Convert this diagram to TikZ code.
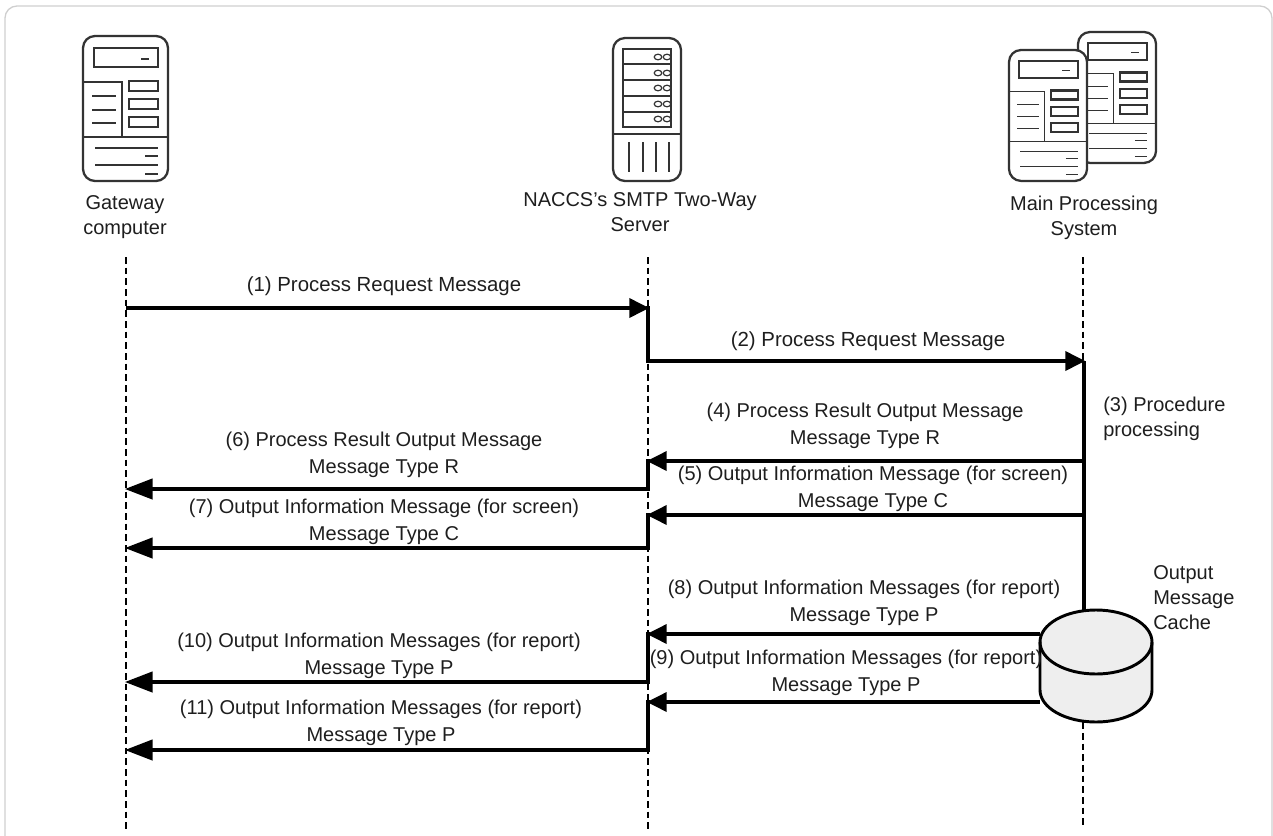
\documentclass[tikz,border=0pt]{standalone}
\usepackage{fontspec}
\setmainfont{Liberation Sans}
\usetikzlibrary{arrows.meta}
\definecolor{ink}{HTML}{1E1E1E}
\definecolor{icon}{HTML}{333333}
\definecolor{frameg}{HTML}{CFCFCF}
\definecolor{cachefill}{HTML}{EEEEEE}
\tikzset{
  lbl/.style={inner sep=0pt,text=ink,align=center,font=\fontsize{15}{20.25}\selectfont},
  lblwide/.style={inner sep=0pt,text=ink,align=center,font=\fontsize{15.3}{20.25}\selectfont},
  lblhead/.style={inner sep=0pt,text=ink,align=center,font=\fontsize{15}{18.75}\selectfont},
  lblside/.style={inner sep=0pt,text=ink,align=left,anchor=west,font=\fontsize{15}{18.75}\selectfont},
  lifeline/.style={draw=black,line width=1.2pt,dash pattern=on 5pt off 3pt},
  thickline/.style={draw=black,line width=3.3pt},
  msgr/.style={thickline,-{Triangle[length=15pt,width=14pt]},shorten >=-1pt},
  msgl/.style={thickline,-{Triangle[length=15pt,width=14pt]},shorten >=-1pt},
  msglong/.style={thickline,-{Triangle[length=21pt,width=15pt]},shorten >=-1pt},
  ico/.style={draw=icon,line width=1.7pt},
  icothin/.style={draw=icon,line width=.9pt},
  icobox/.style={draw=icon,line width=1.8pt,fill=white},
}
\newcommand{\compicon}[4]{%
\begin{scope}[shift={(#1,#2)},xscale=#3,yscale=#4]
  \draw[ico,fill=white,rounded corners=9pt] (0,0) rectangle (85,145);
  \draw[icobox] (11,12) rectangle (75,31);
  \draw[icothin] (58,23) -- (66,23);
  \draw[icothin] (0,46) -- (39,46) -- (39,101);
  \draw[icothin] (0,101) -- (85,101);
  \draw[icobox] (46,45) rectangle (75,55);
  \draw[icobox] (46,63) rectangle (75,73);
  \draw[icobox] (46,81) rectangle (75,91);
  \foreach \yy in {60,74,87} \draw[icothin] (9,\yy) -- (33,\yy);
  \draw[icothin] (12,112) -- (75,112);
  \draw[icothin] (62,120) -- (75,120);
  \draw[icothin] (12,129) -- (75,129);
  \draw[icothin] (62,138) -- (75,138);
\end{scope}}
\begin{document}
\begin{tikzpicture}[x=.75pt,y=-.75pt]
\useasboundingbox (0,0) rectangle (1273,835);
\begin{scope}
\clip (0,0) rectangle (1273,835);
\draw[frameg,line width=1pt,rounded corners=9pt] (5,6) rectangle (1272,850);
\end{scope}

% icons
\compicon{83}{36}{1}{1}
\compicon{1078}{32}{.918}{.903}
\compicon{1009}{50}{.918}{.903}
% server icon
\draw[ico,rounded corners=9pt] (613,38) rectangle (681,181);
\draw[icobox] (623,49) rectangle (671,127);
\foreach \yy in {64,80,96,112} \draw[icothin,line width=1.2pt] (623,\yy) -- (671,\yy);
\foreach \yy in {57,73,88,104,119} {
  \draw[icothin] (658,\yy) ellipse (3.8 and 2.8);
  \draw[icothin] (667,\yy) ellipse (3.8 and 2.8);
}
\draw[icothin] (613,134) -- (681,134);
\foreach \xx in {629,643,656,669} \draw[icothin] (\xx,142) -- (\xx,172);

% header labels
\node[lblhead] (gwlabel) at (125,216.5) {\strut Gateway\\\strut computer};
\node[lblhead] (svlabel) at (640,213.5) {\strut NACCS's SMTP Two-Way\\\strut Server};
\node[lblhead] (mplabel) at (1084,218) {\strut Main Processing\\\strut System};

% lifeline anchors
\coordinate (gw) at (126,257);
\coordinate (gwend) at (126,830);
\coordinate (sv) at (648,257);
\coordinate (svend) at (648,830);
\coordinate (mp) at (1084,257);
\coordinate (mpend) at (1083,825);
\coordinate (mpstart) at (1083,257);
\node[inner sep=0pt,minimum width=84pt,minimum height=84pt] (cache) at (1096,666) {};

\draw[lifeline] (gw) -- (gwend);
\draw[lifeline] (sv) -- (svend);

% message rows
\coordinate (r1) at (0,308);
\coordinate (r2) at (0,361);
\coordinate (r4) at (0,461);
\coordinate (r5) at (0,515);
\coordinate (r6) at (0,489);
\coordinate (r7) at (0,548);
\coordinate (r8) at (0,634);
\coordinate (r9) at (0,702);
\coordinate (r10) at (0,682);
\coordinate (r11) at (0,750);

\draw[lifeline] (mpstart) -- (mpstart |- r2);
\draw[lifeline] (cache.south -| mpend) -- (mpend);
\draw[thickline] (mp |- r2) -- (mp |- cache.north);

\draw[msgr] (gw |- r1) -- (sv |- r1);
\draw[msgr] (sv |- r2) -- (mp |- r2);
\draw[msgl] (mp |- r4) -- (sv |- r4);
\draw[msgl] (mp |- r5) -- (sv |- r5);
\draw[msglong] (sv |- r6) -- (gw |- r6);
\draw[msglong] (sv |- r7) -- (gw |- r7);
\draw[msgl] (cache.west |- r8) -- (sv |- r8);
\draw[msgl] (cache.west |- r9) -- (sv |- r9);
\draw[msglong] (sv |- r10) -- (gw |- r10);
\draw[msglong] (sv |- r11) -- (gw |- r11);

\draw[thickline,line cap=rect] (sv |- r1) -- (sv |- r2);
\draw[thickline,line cap=rect] (sv |- r4) -- (sv |- r6);
\draw[thickline,line cap=rect] (sv |- r5) -- (sv |- r7);
\draw[thickline,line cap=rect] (sv |- r8) -- (sv |- r10);
\draw[thickline,line cap=rect] (sv |- r9) -- (sv |- r11);

% cache cylinder
\draw[draw=black,line width=2.2pt,fill=cachefill] (1040,642) arc[start angle=180,end angle=360,x radius=56,y radius=32]
  -- (1152,690) arc[start angle=0,end angle=180,x radius=56,y radius=32] -- cycle;
\draw[draw=black,line width=2.2pt] (1040,642) arc[start angle=180,end angle=0,x radius=56,y radius=32];

% message labels
\node[lblwide] (t1) at (384,286) {(1) Process Request Message};
\node[lblwide] (t2) at (868,341) {(2) Process Request Message};
\node[lblside] (t3) at (1103,419) {\strut (3) Procedure\\\strut processing};
\node[lbl] (t4) at (865,426) {\strut (4) Process Result Output Message\\\strut Message Type R};
\node[lbl] (t5) at (873,489) {\strut (5) Output Information Message (for screen)\\\strut Message Type C};
\node[lbl] (t6) at (384,455) {\strut (6) Process Result Output Message\\\strut Message Type R};
\node[lbl] (t7) at (384,522) {\strut (7) Output Information Message (for screen)\\\strut Message Type C};
\node[lbl] (t8) at (864,603) {\strut (8) Output Information Messages (for report)\\\strut Message Type P};
\node[lbl] (t9) at (846,673) {\strut (9) Output Information Messages (for report)\\\strut Message Type P};
\node[lbl] (t10) at (379,656) {\strut (10) Output Information Messages (for report)\\\strut Message Type P};
\node[lbl] (t11) at (381,723) {\strut (11) Output Information Messages (for report)\\\strut Message Type P};
\node[lblside] (tc) at (1153,599) {\strut Output\\\strut Message\\\strut Cache};
\end{tikzpicture}
\end{document}
